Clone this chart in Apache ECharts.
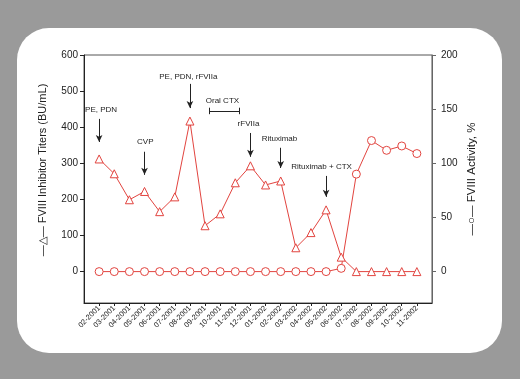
<!DOCTYPE html>
<html>
<head>
<meta charset="utf-8">
<script src="https://cdn.jsdelivr.net/npm/echarts@6/dist/echarts.min.js"></script>
<style>
  html, body { margin: 0; padding: 0; background: #9a9a9a; }
  #main { width: 520px; height: 379px; }
</style>
</head>
<body>
<div id="main"></div>
<script>
const months = ['02-2001', '03-2001', '04-2001', '05-2001', '06-2001', '07-2001', '08-2001',
    '09-2001', '10-2001', '11-2001', '12-2001', '01-2002', '02-2002', '03-2002', '04-2002',
    '05-2002', '06-2002', '07-2002', '08-2002', '09-2002', '10-2002', '11-2002'];
// FVIII inhibitor titers, BU/mL (left axis)
const titers = [312, 271, 199, 222, 166, 207, 417, 127, 160, 246, 293, 240, 251, 66, 108, 171, 40, 0, 0, 0, 0, 0];
// FVIII activity, % (right axis)
const activity = [0, 0, 0, 0, 0, 0, 0, 0, 0, 0, 0, 0, 0, 0, 0, 0, 3, 90, 121, 112, 116, 109];
const leftTicks = [0, 100, 200, 300, 400, 500, 600];
const rightTicks = [0, 50, 100, 150, 200];

// treatment notes: [month index, text y, text]
const notes = [
    [0.13, 448, 'PE, PDN'],
    [3.05, 359, 'CVP'],
    [5.9, 539, 'PE, PDN, rFVIIa'],
    [8.15, 473, 'Oral CTX'],
    [9.87, 409, 'rFVIIa'],
    [11.92, 368, 'Rituximab'],
    [14.7, 290, 'Rituximab + CTX']
];
// arrows: [month index, from, to]
const arrows = [
    [0, 423, 359],
    [3, 332, 268],
    [6, 520, 453],
    [10, 384, 318],
    [12, 343, 287],
    [15, 265, 207]
];
// oral CTX period: [from index, to index, level]
const ctxSpan = [7.27, 9.25, 445];

const red = '#e2443f';
const ink = '#222';
const chart = echarts.init(document.getElementById('main'), null, { renderer: 'canvas' });

const arrowLines = arrows.map(a => [
    { coord: [a[0], a[1]], symbol: 'none' },
    { coord: [a[0], a[2]], symbol: 'arrow', symbolSize: [5, 7] }
]);
const bracket = [
    [{ coord: [ctxSpan[0], ctxSpan[2]] }, { coord: [ctxSpan[1], ctxSpan[2]] }],
    [{ coord: [ctxSpan[0], ctxSpan[2] - 9] }, { coord: [ctxSpan[0], ctxSpan[2] + 9] }],
    [{ coord: [ctxSpan[1], ctxSpan[2] - 9] }, { coord: [ctxSpan[1], ctxSpan[2] + 9] }]
];

chart.setOption({
    backgroundColor: '#9a9a9a',
    animation: false,
    textStyle: { fontFamily: 'Liberation Sans, Arial, sans-serif' },
    graphic: [
        {
            type: 'rect', z: -10,
            shape: { x: 17, y: 28, width: 485, height: 325, r: 32 },
            style: { fill: '#fff' }
        },
        {
            type: 'text', x: 43, y: 170, rotation: Math.PI / 2,
            style: {
                text: '—△— FVIII Inhibitor Titers (BU/mL)',
                fill: ink, font: '11px Liberation Sans, Arial, sans-serif',
                textAlign: 'center', textVerticalAlign: 'middle'
            }
        },
        {
            type: 'text', x: 472, y: 179, rotation: Math.PI / 2,
            style: {
                text: '—○— FVIII Activity, %',
                fill: ink, font: '11.5px Liberation Sans, Arial, sans-serif',
                textAlign: 'center', textVerticalAlign: 'middle'
            }
        }
    ],
    grid: {
        left: 84, right: 88, top: 55, bottom: 76,
        show: true, borderColor: '#555', borderWidth: 1
    },
    xAxis: {
        type: 'value',
        min: -1, max: 22, interval: 1,
        splitLine: { show: false },
        axisLine: { onZero: false, lineStyle: { color: ink } },
        axisTick: { length: 3, lineStyle: { color: ink }, customValues: months.map((m, i) => i) },
        axisLabel: {
            customValues: months.map((m, i) => i),
            formatter: v => months[v] || '',
            rotate: 45, fontSize: 7.5, color: ink, margin: 4
        }
    },
    yAxis: [
        {
            type: 'value', min: -87, max: 600,
            splitLine: { show: false },
            axisLine: { show: true, onZero: false, lineStyle: { color: ink } },
            axisTick: { show: true, length: 4, customValues: leftTicks, lineStyle: { color: ink } },
            axisLabel: { customValues: leftTicks, fontSize: 10, color: ink, margin: 6 }
        },
        {
            type: 'value', min: -29, max: 200,
            splitLine: { show: false },
            axisLine: { show: true, onZero: false, lineStyle: { color: '#666' } },
            axisTick: { show: true, length: 4, customValues: rightTicks, lineStyle: { color: '#666' } },
            axisLabel: { customValues: rightTicks, fontSize: 10, color: ink, margin: 9 }
        }
    ],
    series: [
        {
            name: 'FVIII Inhibitor Titers',
            type: 'line',
            yAxisIndex: 0,
            data: titers.map((v, i) => [i, v]),
            symbol: 'triangle', symbolSize: 8,
            lineStyle: { color: red, width: 1 },
            itemStyle: { color: '#fff', borderColor: red, borderWidth: 1 },
            z: 3,
            markLine: {
                silent: true, animation: false,
                symbol: 'none',
                lineStyle: { color: ink, width: 1, type: 'solid' },
                label: { show: false },
                data: arrowLines.concat(bracket)
            },
            markPoint: {
                silent: true, symbol: 'circle', symbolSize: 0,
                label: {
                    show: true, position: 'inside', color: ink, fontSize: 8,
                    formatter: p => p.name
                },
                data: notes.map(n => ({ name: n[2], coord: [n[0], n[1]] }))
            }
        },
        {
            name: 'FVIII Activity',
            type: 'line',
            yAxisIndex: 1,
            data: activity.map((v, i) => [i, v]),
            symbol: 'circle', symbolSize: 8,
            showAllSymbol: true,
            lineStyle: { color: red, width: 1 },
            itemStyle: { color: '#fff', borderColor: red, borderWidth: 1 },
            z: 2
        }
    ]
});
</script>
</body>
</html>
